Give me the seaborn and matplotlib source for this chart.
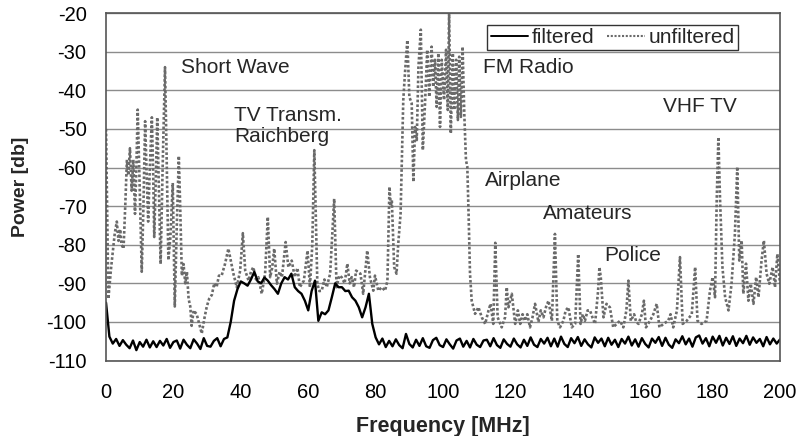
import numpy as np
import pandas as pd
import seaborn as sns
import matplotlib.pyplot as plt
from matplotlib.lines import Line2D

# unfiltered spectrum (MHz, dB)
unf_freq = [0, 0.7, 1.5, 2, 2.6, 3.2, 3.7, 4.2, 4.6, 5.2, 5.7, 6.2, 6.6, 7.1, 7.6, 8.1, 8.6, 9.0, 9.4, 9.9,
            10.6, 11.1, 11.6, 12.0, 12.5, 13.0, 13.6, 14.0, 14.3, 14.8, 15.2, 15.7, 16.2, 16.8, 17.5, 18.0,
            18.5, 19.1, 19.8, 20.4, 21.0, 21.6, 22.0, 22.5, 23.0, 23.5, 24.0, 24.5, 25.0, 25.4, 26.0, 26.9,
            27.5, 28.4, 29.2, 29.9, 30.6, 31.4, 32.1, 32.8, 33.5, 34.3, 35.3, 36.3, 37.0, 37.8, 38.8, 39.8,
            40.6, 41.3, 42.3, 43.0, 43.7, 44.5, 45.2, 46.2, 47.2, 48.0, 48.7, 49.3, 49.9, 50.7, 51.5, 52.2,
            53.3, 54.1, 55.1, 56.0, 56.8, 57.5, 58.7, 59.8, 60.5, 61.2, 61.8, 62.3, 62.7, 63.3, 64.0, 64.8,
            65.5, 66.5, 67.7, 68.4, 69.2, 69.9, 70.8, 71.6, 72.3, 72.9, 73.6, 74.2, 75.5, 76.3, 77.5, 78.3,
            79.3, 79.8, 80.8, 81.8, 82.8, 83.5, 84.1, 84.5, 84.8, 85.5, 86.2, 86.7, 87.4, 88.2, 88.7, 89.4,
            90.0, 90.7, 91.2, 91.7, 92.2, 92.7, 93.4, 94.0, 94.7, 95.3, 95.9, 96.6, 97.1, 97.6, 98.1, 98.6,
            99.1, 99.6, 100.3, 100.9, 101.4, 101.8, 102.3, 102.9, 103.3, 103.9, 104.4, 104.8, 105.3, 105.8,
            106.3, 106.8, 107.2, 107.6, 108.0, 108.5, 109.5, 110.5, 111.5, 112.5, 113.5, 114.1, 114.9, 115.5,
            116.2, 117.4, 118.4, 118.9, 119.4, 120.4, 121.4, 122.2, 122.9, 123.6, 124.3, 125.0, 125.8, 126.5,
            127.3, 128.3, 129.0, 129.8, 130.6, 131.3, 132.3, 133.2, 133.9, 134.7, 135.7, 136.4, 137.2, 138.2,
            139.2, 140.1, 140.8, 141.5, 142.1, 142.9, 143.6, 144.4, 145.1, 146.0, 146.4, 146.8, 147.6, 148.5,
            149.5, 150.5, 151.5, 152.5, 153.5, 154.4, 155.0, 155.7, 156.7, 157.3, 158.0, 159.0, 159.6, 160.2,
            161.4, 162.4, 163.4, 164.2, 165.4, 166.8, 167.5, 168.3, 169.4, 170.3, 171.1, 172.3, 173.8, 174.8,
            175.5, 176.7, 178.2, 179.2, 180.0, 180.7, 181.2, 181.7, 182.2, 182.9, 183.7, 184.7, 185.6, 186.6,
            187.3, 187.9, 188.6, 189.1, 189.9, 190.6, 191.3, 192.1, 192.9, 193.6, 194.5, 195.2, 196.0, 196.8,
            197.8, 198.5, 199.2, 200.0]
unf_power = [-50, -94, -86, -82, -77, -74, -79, -76, -80, -81, -70, -58, -62, -55, -66, -58, -72, -60, -45, -62,
             -87, -70, -48, -60, -74, -60, -47, -62, -78, -62, -47, -66, -85, -60, -34, -58,
             -84, -78, -64, -96, -75, -57, -70, -88, -85, -90, -87, -94, -96, -101, -97, -98,
             -100, -103, -99, -96, -94, -93, -90, -91, -88, -88, -85, -81, -84, -87.5, -91, -86.7,
             -77, -86.7, -89.3, -87, -85.8, -89, -88.4, -92.7, -87.5, -72.8, -88.4, -86, -81, -90.1, -87, -88.4,
             -79.3, -85.8, -84.1, -88.4, -86, -91, -89.3, -81.5, -91, -80, -55.5, -75, -90.1, -92, -91.9, -89,
             -91, -87.5, -68.1, -91, -88, -88.4, -90, -84.9, -90, -88.4, -91, -86.7, -87.5, -92.7, -81.5, -88.4,
             -91.9, -88, -91.9, -91, -91.9, -89.3, -65, -70, -68.5, -85.8, -87.5, -79.8, -72, -42.5, -35.6, -27,
             -41.7, -43.4, -63.7, -49.5, -52.9, -33.9, -24.3, -55.5, -42.5, -29.5, -41.7, -28.7, -39.1, -32.1, -44.3, -30.4,
             -49.5, -32.1, -42.5, -29.5, -45.1, -20, -51.2, -30.4, -45.1, -32.1, -47.7, -31.3, -46.9, -28.7,
             -46, -58.1, -59.8, -72.8, -87.5, -94.5, -97.9, -96.2, -98.8, -100.5, -97, -95.3, -100.5, -79.5,
             -98.8, -101.4, -98.8, -91, -96.2, -92.7, -100.5, -97, -100.5, -98, -99.7, -98, -101.4, -99,
             -95.3, -100, -97, -98.8, -96, -94.5, -99.7, -77.2, -99.7, -101.4, -99.7, -97, -96.2, -101.4,
             -100.5, -82.4, -100.5, -98, -99.7, -97, -97, -99, -100.5, -92, -85.8, -88.4, -98.8, -95.3,
             -96.2, -101.4, -100.5, -99.7, -101.4, -97, -89.3, -99.7, -98, -100, -100.5, -98, -94.5, -101.4,
             -99.7, -98, -95.3, -101.4, -100.5, -99.7, -98, -101.4, -97, -83.2, -100.5, -99.7, -98, -85.8,
             -99.7, -100.5, -99.7, -91.9, -88.4, -93.6, -68.5, -52.1, -68.5, -85.8, -93.6, -97, -90.1, -77.2,
             -59.8, -84.1, -78.9, -92.7, -84.9, -94.5, -90.1, -95.3, -88.4, -93.6, -84.1, -78.9, -87.5, -90.1,
             -85.8, -91, -82.4, -90.1]

# filtered spectrum, one reading per MHz from 0 to 200
filt_freq = np.arange(0, 201)
filt_power = [-95.0,
              -103.8, -105.6, -104.4, -106.2, -104.7, -105.9, -106.8, -104.8, -107.3, -105.2,
              -106.4, -104.6, -106.6, -105.0, -106.5, -104.9, -106.1, -104.4, -106.7, -105.2,
              -104.8, -106.9, -104.6, -105.9, -106.8, -104.5, -105.6, -107.0, -104.2, -106.2,
              -106.4, -104.9, -104.2, -106.3, -104.4, -104.0, -100.0, -94.5, -91.5, -89.5,
              -90.0, -90.6, -89.0, -87.0, -89.5, -90.0, -88.5, -89.3, -90.5, -91.5,
              -92.7, -90.0, -88.4, -89.0, -87.5, -91.0, -92.0, -92.7, -94.5, -97.0,
              -92.0, -89.3, -99.7, -97.5, -98.0, -97.0, -93.6, -90.0, -91.0, -91.0,
              -92.0, -91.9, -93.6, -94.5, -96.2, -98.8, -96.2, -92.7, -100.5, -104.0,
              -105.8, -104.3, -106.5, -104.9, -106.3, -104.5, -106.0, -106.8, -103.1, -105.7,
              -106.6, -104.6, -106.2, -104.2, -106.3, -106.7, -104.7, -104.1, -106.0, -106.5,
              -104.5, -105.8, -106.9, -104.8, -104.3, -106.4, -104.9, -106.6, -104.4, -105.9,
              -106.5, -104.8, -104.6, -106.3, -104.2, -106.0, -106.7, -104.5, -105.7, -106.4,
              -104.3, -105.8, -106.6, -104.6, -106.2, -104.0, -105.9, -106.5, -104.4, -105.6,
              -104.1, -106.3, -104.3, -106.4, -103.8, -105.7, -106.5, -104.2, -105.5, -103.9,
              -106.2, -104.5, -105.8, -106.6, -104.0, -105.4, -104.3, -106.3, -104.1, -105.9,
              -104.6, -106.5, -104.4, -105.6, -103.8, -106.1, -104.5, -106.4, -104.2, -105.7,
              -106.6, -104.3, -105.4, -103.9, -106.2, -104.1, -105.9, -106.7, -104.5, -105.5,
              -103.7, -105.8, -104.3, -106.4, -104.0, -103.5, -105.6, -104.2, -106.3, -103.8,
              -105.4, -103.6, -106.1, -104.1, -105.7, -103.7, -106.2, -104.3, -105.5, -103.6,
              -105.9, -104.0, -105.4, -104.4, -106.3, -103.9, -105.8, -104.3, -105.6, -104.5]

labels = ["Short Wave", "TV Transm.\nRaichberg", "FM Radio", "VHF TV", "Airplane", "Amateurs", "Police"]
label_x = [22.3, 38.0, 111.9, 165.3, 112.5, 129.7, 147.8]
label_y = [-34.2, -49.2, -34.0, -44.1, -63.3, -71.9, -82.8]

sns.set_style("white")
plt.rcParams['font.family'] = ['Liberation Sans', 'DejaVu Sans']
plt.rcParams['axes.unicode_minus'] = False

fig = plt.figure(figsize=(7.99, 4.36), dpi=100)
ax = fig.add_axes([0.1327, 0.173, 0.8436, 0.797])

unf = pd.DataFrame({'freq': unf_freq, 'power': unf_power})
filt = pd.DataFrame({'freq': filt_freq, 'power': filt_power})

for y in range(-110, -10, 10):
    ax.axhline(y, color='#8c8c8c', lw=1.0, zorder=0)

sns.lineplot(data=unf, x='freq', y='power', ax=ax, color='#6a6a6a', lw=1.9,
             linestyle=(0, (1, 0.8)), estimator=None, sort=False)
sns.lineplot(data=filt, x='freq', y='power', ax=ax, color='black', lw=1.7,
             estimator=None, sort=False)

for t, x, y in zip(labels, label_x, label_y):
    ax.text(x, y, t, fontsize=15, va='center', ha='left', linespacing=1.1)

ax.set_xlim(0, 200)
ax.set_ylim(-110, -20)
ax.set_xticks(range(0, 201, 20))
ax.set_yticks(range(-110, -19, 10))
ax.tick_params(labelsize=14.5, length=5, width=1, colors='black', direction='out')
ax.tick_params(axis='x', pad=11)
ax.tick_params(axis='y', pad=9)
ax.set_xlabel('Frequency [MHz]', fontsize=15.5, fontweight='bold', labelpad=10)
ax.set_ylabel('Power [db]', fontsize=14, fontweight='bold', labelpad=13)

for s in ax.spines.values():
    s.set_linestyle((0, (1, 1)))
    s.set_color('#555555')
    s.set_linewidth(1.2)

handles = [Line2D([], [], color='black', lw=1.4),
           Line2D([], [], color='#6a6a6a', lw=1.5, linestyle=(0, (1, 0.8)))]
leg = ax.legend(handles, ['filtered', 'unfiltered'], loc='upper right',
                bbox_to_anchor=(0.938, 0.966), ncol=2, fontsize=15, frameon=True,
                fancybox=False, edgecolor='#333333', framealpha=1, borderpad=0.15,
                handlelength=1.8, handletextpad=0.2, columnspacing=0.6, borderaxespad=0)
leg.get_frame().set_linewidth(1.0)

fig.savefig('out.png', dpi=100)
